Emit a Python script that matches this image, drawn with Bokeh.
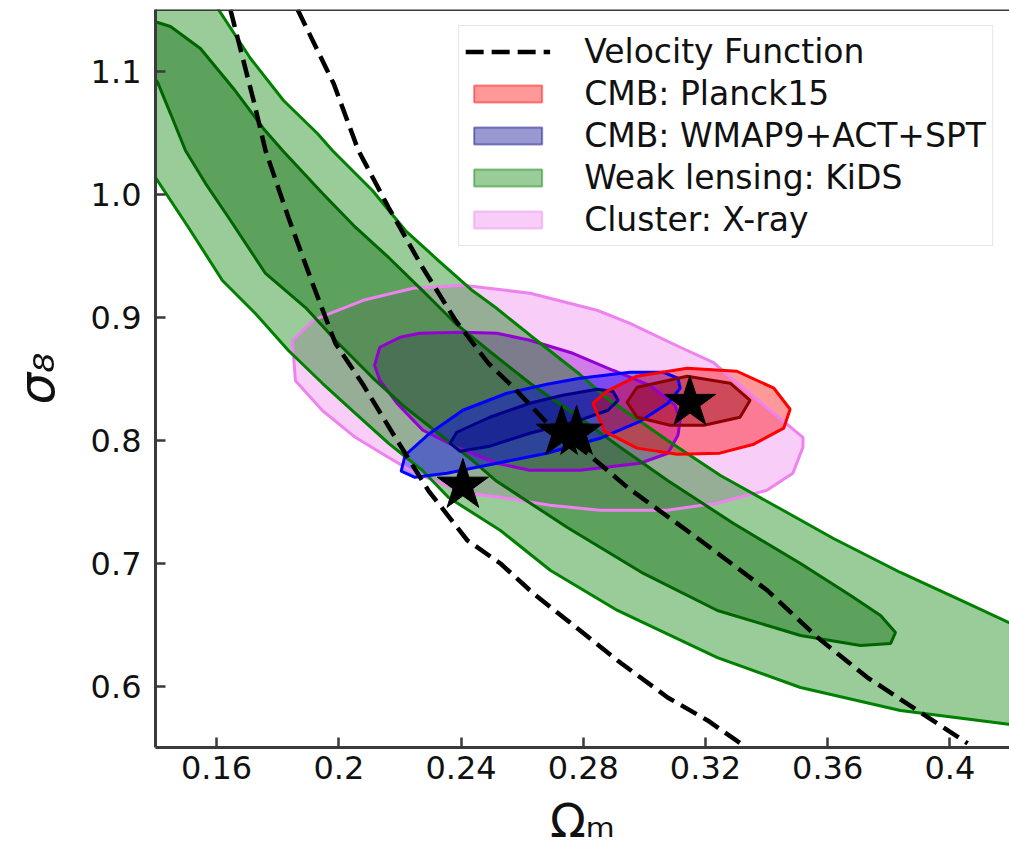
from bokeh.plotting import figure
from bokeh.models import Legend, LegendItem, Span, FixedTicker
from bokeh.embed import file_html
from bokeh.resources import INLINE

# ---------------- data (Omega_m, sigma_8) ----------------
x_start, x_end = 0.14, 0.4195
y_start, y_end = 0.55, 1.15

xticks = [0.16, 0.2, 0.24, 0.28, 0.32, 0.36, 0.4]
xtick_labels = ["0.16", "0.2", "0.24", "0.28", "0.32", "0.36", "0.4"]
yticks = [0.6, 0.7, 0.8, 0.9, 1.0, 1.1]
ytick_labels = ["0.6", "0.7", "0.8", "0.9", "1.0", "1.1"]
x_title = "Ωₘ"
y_title = "σ₈"

# velocity function band (two dashed bounds)
vf_hi_om = [0.1865, 0.1983, 0.2064, 0.2163, 0.2274, 0.2382, 0.2490, 0.2572, 0.2683,
            0.2814, 0.2945, 0.3184, 0.3403, 0.3567, 0.3730, 0.3894, 0.4058]
vf_hi_s8 = [1.1500, 1.0898, 1.0354, 0.9890, 0.9402, 0.8972, 0.8622, 0.8427, 0.8134,
            0.7890, 0.7614, 0.7183, 0.6776, 0.6394, 0.6069, 0.5801, 0.5533]
vf_lo_om = [0.1645, 0.1721, 0.1760, 0.1835, 0.1914, 0.1989, 0.2077, 0.2185, 0.2293,
            0.2421, 0.2529, 0.2637, 0.2748, 0.2912, 0.3076, 0.3207, 0.3315]
vf_lo_s8 = [1.1500, 1.0760, 1.0354, 0.9809, 0.9272, 0.8785, 0.8459, 0.8020, 0.7589,
            0.7183, 0.6996, 0.6752, 0.6533, 0.6207, 0.5907, 0.5720, 0.5533]

# weak lensing KiDS: 2-sigma (outer) and 1-sigma (inner) contours
kids2_om = [0.1515, 0.1606, 0.1711, 0.1819, 0.1930, 0.1979, 0.2110, 0.2218, 0.2326,
            0.2437, 0.2513, 0.2627, 0.2781, 0.2879, 0.3076, 0.3249, 0.3455, 0.3619,
            0.3838, 0.4058, 0.4264,
            0.4261, 0.4192, 0.3838, 0.3511, 0.3239, 0.2912, 0.2693, 0.2529, 0.2359,
            0.2274, 0.2163, 0.2055, 0.1947, 0.1835, 0.1727, 0.1619, 0.1508, 0.1400,
            0.1318, 0.1200, 0.1200]
kids2_s8 = [1.1898, 1.1500, 1.1102, 1.0760, 1.0492, 1.0354, 1.0028, 0.9703, 0.9459,
            0.9215, 0.9077, 0.8850, 0.8549, 0.8337, 0.7996, 0.7711, 0.7427, 0.7199,
            0.6923, 0.6671, 0.6435,
            0.5665, 0.5689, 0.5801, 0.5988, 0.6231, 0.6614, 0.6939, 0.7264, 0.7533,
            0.7752, 0.7972, 0.8215, 0.8459, 0.8728, 0.9028, 0.9297, 0.9728, 1.0134,
            1.0435, 1.0500, 1.2000]
kids1_om = [0.1351, 0.1407, 0.1449, 0.1547, 0.1655, 0.1753, 0.1816, 0.1947, 0.2055,
            0.2163, 0.2274, 0.2382, 0.2490, 0.2627, 0.2791, 0.2922, 0.3076, 0.3292,
            0.3511, 0.3675, 0.3773, 0.3822,
            0.3806, 0.3707, 0.3511, 0.3239, 0.2997, 0.2748, 0.2513, 0.2438, 0.2326,
            0.2218, 0.2110, 0.1999, 0.1891, 0.1760, 0.1639, 0.1564, 0.1498, 0.1449,
            0.1407, 0.1351]
kids1_s8 = [1.1451, 1.1394, 1.1362, 1.1183, 1.0858, 1.0533, 1.0354, 1.0004, 0.9728,
            0.9484, 0.9215, 0.8947, 0.8728, 0.8459, 0.8175, 0.7939, 0.7671, 0.7321,
            0.6996, 0.6736, 0.6573, 0.6435,
            0.6346, 0.6329, 0.6411, 0.6614, 0.6915, 0.7289, 0.7671, 0.7833, 0.8053,
            0.8264, 0.8508, 0.8785, 0.9077, 0.9354, 0.9809, 1.0085, 1.0354, 1.0654,
            1.0907, 1.1087]

# cluster X-ray
clu2_om = [0.1848, 0.1858, 0.1947, 0.2055, 0.2163, 0.2235, 0.2310, 0.2419, 0.2527,
           0.2691, 0.2855, 0.3074, 0.3237, 0.3401, 0.3486, 0.3519, 0.3519, 0.3411,
           0.3313, 0.3225, 0.3117, 0.2953, 0.2845, 0.2626, 0.2407, 0.2243, 0.2080, 0.1916]
clu2_s8 = [0.8807, 0.8482, 0.8238, 0.8020, 0.7858, 0.7752, 0.7671, 0.7567, 0.7535,
           0.7470, 0.7429, 0.7429, 0.7486, 0.7592, 0.7730, 0.7941, 0.8022, 0.8242,
           0.8445, 0.8632, 0.8754, 0.8949, 0.9055, 0.9193, 0.9258, 0.9234, 0.9136, 0.8974]
clu1_om = [0.2117, 0.2134, 0.2200, 0.2265, 0.2406, 0.2517, 0.2625, 0.2766, 0.2897,
           0.3018, 0.3100, 0.3117, 0.3110, 0.3077, 0.2986, 0.2789, 0.2625, 0.2517,
           0.2386, 0.2275, 0.2190, 0.2134]
clu1_s8 = [0.8608, 0.8754, 0.8835, 0.8868, 0.8876, 0.8868, 0.8811, 0.8705, 0.8567,
           0.8445, 0.8283, 0.8161, 0.8039, 0.7892, 0.7811, 0.7754, 0.7754, 0.7811,
           0.7941, 0.8079, 0.8299, 0.8486]

# CMB WMAP9+ACT+SPT
wmap2_om = [0.2204, 0.2217, 0.2298, 0.2406, 0.2550, 0.2681, 0.2789, 0.2953, 0.3061,
            0.3110, 0.3117, 0.3077, 0.2986, 0.2855, 0.2681, 0.2517, 0.2354, 0.2249]
wmap2_s8 = [0.7746, 0.7876, 0.8055, 0.8242, 0.8380, 0.8453, 0.8502, 0.8551, 0.8551,
            0.8502, 0.8421, 0.8299, 0.8152, 0.8014, 0.7892, 0.7811, 0.7730, 0.7697]
wmap1_om = [0.2364, 0.2386, 0.2494, 0.2625, 0.2733, 0.2845, 0.2897, 0.2914, 0.2881,
            0.2789, 0.2625, 0.2494, 0.2396]
wmap1_s8 = [0.7974, 0.8063, 0.8185, 0.8299, 0.8364, 0.8413, 0.8397, 0.8323, 0.8242,
            0.8161, 0.8055, 0.7950, 0.7909]

# CMB Planck15
pl2_om = [0.2832, 0.2878, 0.2976, 0.3140, 0.3303, 0.3424, 0.3477, 0.3456, 0.3358,
          0.3247, 0.3107, 0.2976, 0.2868]
pl2_s8 = [0.8299, 0.8397, 0.8519, 0.8584, 0.8559, 0.8421, 0.8250, 0.8096, 0.7966,
          0.7893, 0.7885, 0.7934, 0.8072]
pl1_om = [0.2943, 0.2976, 0.3140, 0.3281, 0.3346, 0.3313, 0.3195, 0.3084, 0.2976]
pl1_s8 = [0.8307, 0.8429, 0.8519, 0.8462, 0.8323, 0.8185, 0.8120, 0.8120, 0.8185]

# best-fit stars
star_om = [0.3149, 0.2729, 0.2778, 0.2406]
star_s8 = [0.8303, 0.8061, 0.8061, 0.7630]

legend_labels = ["Velocity Function", "CMB: Planck15", "CMB: WMAP9+ACT+SPT",
                 "Weak lensing: KiDS", "Cluster: X-ray"]

# ---------------- figure ----------------
FONT = "DejaVu Sans"
AX = "#3a3a3a"
TXT = "#111111"

p = figure(width=1009, height=851, x_range=(x_start, x_end), y_range=(y_start, y_end),
           output_backend="svg", toolbar_location=None,
           min_border_left=155, min_border_right=0, min_border_top=9, min_border_bottom=104)
p.background_fill_color = "white"
p.border_fill_color = "white"
p.outline_line_color = None
p.grid.visible = False

for ax in (p.xaxis[0], p.yaxis[0]):
    ax.axis_line_color = AX
    ax.axis_line_width = 3
    ax.major_tick_line_color = AX
    ax.major_tick_line_width = 2.5
    ax.major_tick_in = 10
    ax.major_tick_out = 0
    ax.minor_tick_line_color = None
    ax.major_label_text_font = FONT
    ax.major_label_text_font_size = "32px"
    ax.major_label_text_color = TXT
    ax.axis_label_text_font = FONT
    ax.axis_label_text_color = TXT

p.xaxis.ticker = FixedTicker(ticks=xticks)
p.xaxis.major_label_overrides = {t: l for t, l in zip(xticks, xtick_labels)}
p.xaxis.major_label_standoff = 8
p.xaxis.axis_label = x_title
p.xaxis.axis_label_text_font_size = "47px"
p.xaxis.axis_label_text_font_style = "normal"
p.xaxis.axis_label_standoff = 11

p.yaxis.ticker = FixedTicker(ticks=yticks)
p.yaxis.major_label_overrides = {t: l for t, l in zip(yticks, ytick_labels)}
p.yaxis.major_label_standoff = 14
p.yaxis.axis_label = y_title
p.yaxis.axis_label_text_font_size = "50px"
p.yaxis.axis_label_text_font_style = "italic"
p.yaxis.axis_label_standoff = 22

# top spine
p.add_layout(Span(location=y_end, dimension="width", line_color=AX, line_width=3))

# fills first (cluster, lensing, WMAP, Planck), then all contour lines
contours = [
    (clu2_om, clu2_s8, "violet", "violet", 3),
    (clu1_om, clu1_s8, "darkviolet", "darkviolet", 3),
    (kids2_om, kids2_s8, "green", "green", 3),
    (kids1_om, kids1_s8, "darkgreen", "darkgreen", 3),
    (wmap2_om, wmap2_s8, "blue", "blue", 3),
    (wmap1_om, wmap1_s8, "darkblue", "darkblue", 3),
    (pl2_om, pl2_s8, "red", "red", 3),
    (pl1_om, pl1_s8, "darkred", "darkred", 3),
]
for xs, ys, fc, lc, lw in contours:
    p.patch(xs, ys, fill_color=fc, fill_alpha=0.4, line_color=None)
for xs, ys, fc, lc, lw in contours:
    p.patch(xs, ys, fill_color=None, line_color=lc, line_width=lw)

# velocity function bounds
vf1 = p.line(vf_hi_om, vf_hi_s8, line_color="black", line_width=4.5, line_dash="18 8")
p.line(vf_lo_om, vf_lo_s8, line_color="black", line_width=4.5, line_dash="18 8")

# stars
p.scatter(star_om, star_s8, marker="star", size=54, fill_color="black", line_color="black")

# legend proxies (not drawn on the plot)
def proxy(xs, ys, color):
    r = p.patch(xs, ys, fill_color=color, fill_alpha=0.4, line_color=color,
                line_alpha=0.45, line_width=2)
    r.visible = False
    return r

r_pl = proxy(pl2_om, pl2_s8, "red")
r_wm = proxy(wmap2_om, wmap2_s8, "darkblue")
r_ki = proxy(kids2_om, kids2_s8, "green")
r_cl = proxy(clu2_om, clu2_s8, "violet")

legend = Legend(items=[LegendItem(label=legend_labels[0], renderers=[vf1]),
                       LegendItem(label=legend_labels[1], renderers=[r_pl]),
                       LegendItem(label=legend_labels[2], renderers=[r_wm]),
                       LegendItem(label=legend_labels[3], renderers=[r_ki]),
                       LegendItem(label=legend_labels[4], renderers=[r_cl])],
                location="top_right")
legend.margin = 16
legend.padding = 6
legend.spacing = 3
legend.glyph_width = 85
legend.glyph_height = 21
legend.label_standoff = 34
legend.label_text_font = FONT
legend.label_text_font_size = "33px"
legend.label_text_color = TXT
legend.border_line_color = "#cccccc"
legend.border_line_width = 1.5
legend.background_fill_color = "white"
legend.background_fill_alpha = 0.85
legend.inactive_fill_alpha = 0.0
p.add_layout(legend)

open("out.html", "w").write(file_html(p, INLINE))
